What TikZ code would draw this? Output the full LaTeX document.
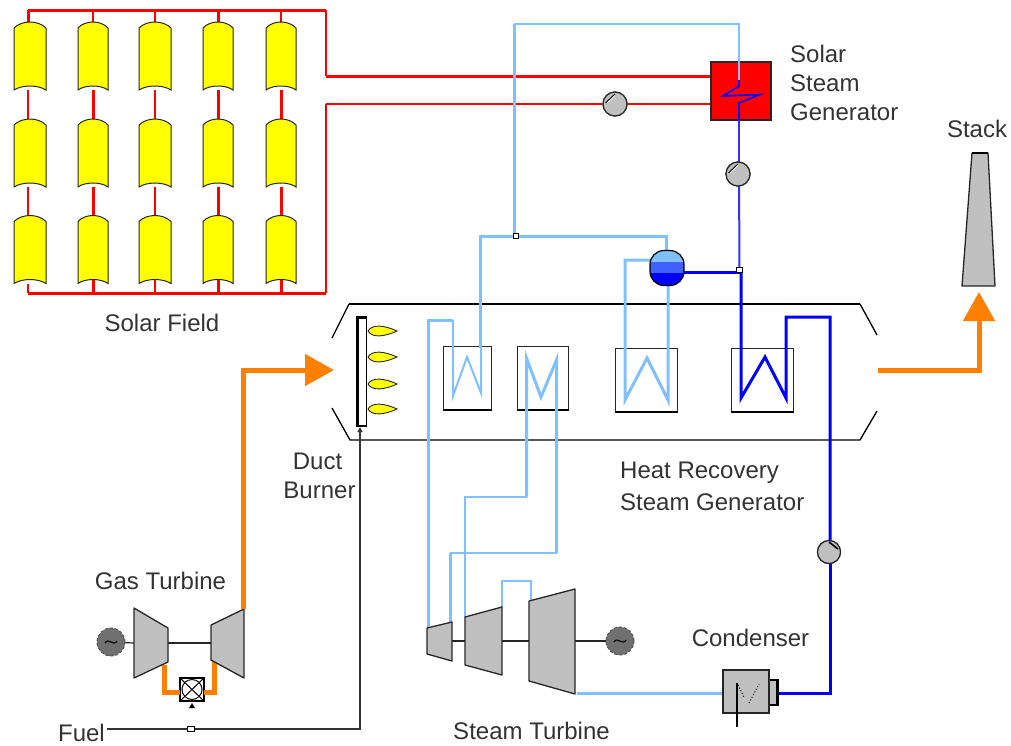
\documentclass[tikz,border=0pt]{standalone}
\usepackage{fontspec}
\setmainfont{Liberation Sans}
\usetikzlibrary{calc,arrows.meta}
\definecolor{pipeL}{HTML}{80C0FF}
\definecolor{pipeB}{HTML}{0000FF}
\definecolor{pipeM}{HTML}{4060FF}
\definecolor{hot}{HTML}{FF0000}
\definecolor{flue}{HTML}{FF8000}
\definecolor{metal}{HTML}{C0C0C0}
\definecolor{gen}{HTML}{707070}
\definecolor{lab}{HTML}{333333}
\definecolor{sun}{HTML}{FFFF00}
\tikzset{
  anch/.style={inner sep=0pt,outer sep=0pt,minimum width=#1,minimum height=68pt,rectangle},
  collshape/.style={draw=black!85,line width=1pt,fill=sun},
  hotA/.style={draw=hot,line width=1.4pt},
  hotB/.style={draw=hot,line width=3pt},
  lblue/.style={draw=pipeL,line width=3pt},
  lbluethin/.style={draw=pipeL,line width=2pt},
  dblue/.style={draw=pipeB,line width=3pt},
  dbluethin/.style={draw=pipeB!80!white,line width=2pt},
  gas/.style={draw=flue,line width=5pt},
  fuelline/.style={draw=black!80,line width=1.1pt},
  pump/.style={circle,draw=black!85,line width=1.2pt,fill=metal,minimum size=24pt,inner sep=0pt},
  jct/.style={rectangle,draw=black,fill=white,line width=.8pt,minimum size=5.5pt,inner sep=0pt},
  hxbox/.style={rectangle,draw=black!85,fill=white,line width=1pt,inner sep=0pt},
  machine/.style={draw=black!85,line width=1.3pt,fill=metal,line join=round},
  gener/.style={circle,draw=black!70,densely dashed,line width=.9pt,fill=gen,minimum size=28pt,inner sep=0pt},
  shaft/.style={draw=black!85,line width=1.2pt},
  casing/.style={draw=black,line width=1.3pt},
  casingB/.style={draw=black,line width=2.6pt},
  lbl/.style={text=lab,font=\fontsize{24}{29}\selectfont,inner sep=0pt},
  flame/.style={draw=black!85,line width=.9pt,fill=sun},
}
\newcommand{\collector}[1]{%
  \draw[collshape] ($(#1.north west)+(0,6)$) .. controls ($(#1.north)+(-8,-2)$) and ($(#1.north)+(8,-2)$) .. ($(#1.north east)+(0,6)$)
    -- (#1.south east) .. controls ($(#1.south)+(8,-5.3)$) and ($(#1.south)+(-8,-5.3)$) .. (#1.south west) -- cycle;}
\newcommand{\wave}[1]{%
  \draw[black,line width=1.1pt] ($(#1)+(-6,1)$) .. controls ($(#1)+(-2,-5)$) and ($(#1)+(2,5)$) .. ($(#1)+(6,-1)$);}
\newcommand{\pumpmark}[1]{%
  \draw[black,line width=1pt] ($(#1)+(-9.5,-1)$) -- ($(#1)+(0,-10)$);
  \draw[white,line width=.6pt] ($(#1)+(-8,-1)$) -- ($(#1)+(0,-8.5)$);}
\begin{document}
\begin{tikzpicture}[x=1pt,y=-1pt]
\useasboundingbox (0,0) rectangle (1011,745);
% ---- solar field anchors
\foreach \r/\yy in {1/56,2/153,3/249.5}{
  \node[anch=32pt] (c\r a) at (30,\yy) {};
  \node[anch=30pt] (c\r b) at (93,\yy) {};
  \node[anch=32pt] (c\r c) at (155,\yy) {};
  \node[anch=30pt] (c\r d) at (218,\yy) {};
  \node[anch=30pt] (c\r e) at (281,\yy) {};
}
\coordinate (hdrT) at (28,10);
\coordinate (hdrB) at (28,293);
\coordinate (turnT) at (326,76);
\coordinate (turnB) at (326,104);
\node[rectangle,draw=black!85,fill=hot,line width=1.2pt,minimum width=60pt,minimum height=58pt,inner sep=0pt] (ssg) at (741,91) {};
\node[pump] (p1) at (615,104) {};
\node[pump] (p2) at (738,174) {};
\node[pump,minimum size=23pt] (p3) at (829,552) {};
\node[jct] (j1) at (516,236) {};
\node[jct] (j2) at (739.5,270) {};
\node[jct,minimum width=7pt] (j3) at (190.5,729) {};
% ---- solar field pipework
\draw[hotB] (turnT -| 326,10) ++(0,-66) -- (hdrT);
\draw[hotA] (326,10) -- (turnT);
\draw[hotB] (hdrB) -- (326,293);
\draw[hotA] (326,293) -- (turnB);
\draw[hotB] (hdrT) -- (c1a.north -| hdrT);
\draw[hotA] (c1b.north) -- (c1b.north |- hdrT);
\draw[hotA] (c1c.north) -- (c1c.north |- hdrT);
\draw[hotB] (c1d.north) -- (c1d.north |- hdrT);
\draw[hotA] (c1e.north) -- (c1e.north |- hdrT);
\draw[hotA] (c1a.south -| hdrT) -- (c2a.north -| hdrT);
\draw[hotB] (c1b) -- (c2b);
\draw[hotA] (c1c) -- (c2c);
\draw[hotB] (c1d) -- (c2d);
\draw[hotB] (c1e) -- (c2e);
\draw[hotA] (c2a.south -| hdrT) -- (c3a.north -| hdrT);
\draw[hotB] (c2b) -- (c3b);
\draw[hotA] (c2c) -- (c3c);
\draw[hotB] (c2d) -- (c3d);
\draw[hotB] (c2e) -- (c3e);
\draw[hotA] (c3a.south -| hdrT) -- (hdrB);
\draw[hotB] (c3b.center) -- (c3b.center |- hdrB);
\draw[hotA] (c3c.center) -- (c3c.center |- hdrB);
\draw[hotB] (c3d.center) -- (c3d.center |- hdrB);
\draw[hotB] (c3e.center) -- (c3e.center |- hdrB);
\foreach \r in {1,2,3}{\foreach \c in {a,b,c,d,e}{\collector{c\r\c}}}
\draw[hotB] (turnT) -- (ssg.west |- turnT);
\draw[hotA] (turnB) -- (p1);
\draw[hotA] (p1) -- (ssg.west |- p1);
% ---- HRSG casing
\coordinate (ct1) at (349,304); \coordinate (ct2) at (860,304);
\coordinate (cb1) at (350,440); \coordinate (cb2) at (860,440);
\draw[casingB] (ct1) -- (ct2);
\draw[casing] (ct1) -- (332,338);
\draw[casing] (ct2) -- (877,335);
\draw[casing] (332,408) -- (cb1) -- (cb2) -- (877,411);
% ---- HX boxes
\node[hxbox,minimum width=48pt,minimum height=63pt] (hx1) at (467,377.5) {};
\node[hxbox,minimum width=51pt,minimum height=63pt] (hx2) at (542.5,377.5) {};
\node[hxbox,minimum width=62pt,minimum height=63pt] (hx3) at (646,379.5) {};
\node[hxbox,minimum width=62pt,minimum height=63pt] (hx4) at (762,379.5) {};
\foreach \h in {hx1,hx2,hx3,hx4}{
  \draw[black,line width=2pt] (\h.south west) -- (\h.south east);
}
% ---- turbine anchors
\coordinate (t1in) at (427,628);
\coordinate (t1out) at (450,622);
\coordinate (t2in) at (465,617);
\coordinate (t2out) at (502,607);
\coordinate (t3in) at (531,601);
\coordinate (t3out) at (577,693);
% ---- steam pipework
\draw[lblue] (j1) -- (514,236) -- (514,24);
\draw[lbluethin,line width=2.5pt] (514,24) -- (739,24) -- (739,80);
\draw[lblue] (480,348) -- (480,236) -- (j1);
\draw[lblue] (j1) -- (666,236) -- (666,252);
\draw[lbluethin] (481,348) -- (481,393) -- (467,357) -- (453,396) -- (453,320);
\draw[lblue] (453,320) -- (428,320) -- (428,628);
\draw[lblue] (652,260) -- (625,260) -- (625,400) -- (647,358) -- (668,400) -- (668,285);
\draw[lblue] (526.5,497) -- (526.5,358) -- (541,397) -- (556.5,360) -- (556.5,553);
\draw[lbluethin] (526.5,497) -- (465,497) -- (t2in);
\draw[lbluethin] (556.5,553) -- (450,553);
\draw[lblue] (450,553) -- (t1out);
\draw[lbluethin] (t2out) -- (502,581) -- (531,581) -- (t3in);
\draw[lblue] (t3out) -- (723,693);
% ---- water pipework
\draw[dbluethin] (739,120) -- (p2.center -| 739,0);
\draw[dbluethin] (p2.center -| 739,0) -- (j2);
\draw[dblue] (682,272) -- (740,272);
\draw[dblue,line join=miter,miter limit=8] (741,272) -- (741,398) -- (765,357) -- (786,398) -- (786,317) -- (830,317) -- (830,540);
\draw[dblue] (830,564) -- (830,693) -- (778,693);
% ---- drum
\node[rectangle,minimum width=34pt,minimum height=35pt,inner sep=0pt,rounded corners=14pt,draw=black,line width=1.2pt,
  path picture={
    \begin{scope}[sharp corners]
    \fill[pipeL] (path picture bounding box.north west) rectangle ($(path picture bounding box.east)+(0,-6)$);
    \fill[pipeM] ($(path picture bounding box.west)+(0,-6)$) rectangle ($(path picture bounding box.east)+(0,5)$);
    \fill[pipeB] ($(path picture bounding box.west)+(0,5)$) rectangle (path picture bounding box.south east);
    \end{scope}
  }] (drum) at (667,268) {};
% ---- SSG coil
\draw[pipeB,line width=1.6pt,line join=miter,miter limit=10] (739,80) -- (739,86) -- (723,96) -- (760,94.5) -- (739,103) -- (739,120);
% ---- pumps and junctions on top
\foreach \p in {p1,p2}{\node[pump] at (\p) {};\pumpmark{\p}}
\node[pump,minimum size=23pt] at (p3) {};
\draw[black,line width=1.6pt] ($(p3)+(0,-10)$) -- ($(p3)+(9,-3)$);
\node[jct] at (j1) {};
\node[jct] at (j2) {};
% ---- duct burner
\node[rectangle,draw=black,fill=white,line width=1.2pt,minimum width=8pt,minimum height=108pt,inner sep=0pt] (burner) at (362.5,372) {};
\draw[black,line width=3pt] (burner.south west) -- (burner.north west) -- (burner.north east);
\foreach \yy in {331,357,384,409}{
  \draw[flame] (368,\yy) .. controls (372,\yy-7) and (384,\yy-6) .. (397,\yy) .. controls (384,\yy+6) and (372,\yy+7) .. (368,\yy) -- cycle;
}
% ---- fuel
\coordinate (fuelS) at (107,729);
\draw[fuelline] (fuelS) -- (j3);
\draw[fuelline,-{Triangle[length=5pt,width=5pt]}] (j3) -- (360,729) -- (360,427);
\node[jct,minimum width=7pt] at (j3) {};
% ---- gas turbine
\coordinate (gc) at (111,642);
\node[gener] (gg) at (gc) {};
\wave{gc}
\coordinate (cmpL) at (134,643);
\coordinate (cmpR) at (168,643);
\coordinate (trbL) at (211,643);
\coordinate (trbTop) at (243.5,609);
\coordinate (gasEnd) at (334,370);
\node[rectangle,draw=black,fill=white,line width=1.6pt,minimum width=24pt,minimum height=23pt,inner sep=0pt] (comb) at (192,689.5) {};
\draw[gas] (164,665) -- (164,692) -- (180,692);
\draw[gas] (204,692) -- (214,692) -- (214,660);
\draw[shaft] (gg) -- (cmpL);
\draw[shaft] (cmpR) -- (trbL);
\draw[machine] (134,608) -- (168,628) -- (168,662) -- (134,678) -- cycle;
\draw[machine] (211,625) -- (244,609) -- (244,678) -- (211,660) -- cycle;
\draw[black,line width=1pt] (comb.north west) -- (comb.south east) (comb.north east) -- (comb.south west);
\draw[black,line width=1pt] (comb) circle (10);
\fill[black] (189,708) -- (195,708) -- (192,703) -- cycle;
\draw[gas,-{Triangle[length=29pt,width=31pt]}] (trbTop) -- (243.5,370) -- (gasEnd);
% ---- steam turbines
\node[gener] (gs) at (620,641) {};
\wave{gs}
\draw[shaft] (452,641) -- (465,641);
\draw[shaft] (502,641) -- (529,641);
\draw[shaft] (575,641) -- (gs);
\draw[machine] (427,628) -- (452,622) -- (452,661) -- (427,654) -- cycle;
\draw[machine] (465,617) -- (502,607) -- (502,675) -- (465,665) -- cycle;
\draw[machine] (529,601) -- (575,589) -- (575,694) -- (529,681) -- cycle;
% ---- condenser
\node[rectangle,draw=black,fill=metal,line width=2.2pt,minimum width=9pt,minimum height=25pt,inner sep=0pt] (condB) at (773,692.5) {};
\node[rectangle,draw=black!85,fill=metal,line width=1.2pt,minimum width=46pt,minimum height=43pt,inner sep=0pt] (cond) at (746,691.5) {};
\draw[black,line width=1.1pt] (737,683) -- (737,727);
\draw[black,line width=1pt,dotted] (738,685) -- (744,697);
\draw[black,line width=1pt,dotted] (749,703) -- (759,684);
% ---- stack and exhaust
\coordinate (exh) at (878,370);
\draw[gas,-{Triangle[length=29pt,width=31pt]}] (exh) -- (979,370) -- (979,292);
\draw[machine] (972,153) -- (988,153) -- (995,286) -- (962,286) -- cycle;
\draw[black,line width=2.4pt] (972,153) -- (988,153);
% ---- labels
\node[lbl,anchor=west] (t1) at (790,54) {Solar};
\node[lbl,anchor=west] (t2) at (790,83) {Steam};
\node[lbl,anchor=west] (t3) at (790,112) {Generator};
\node[lbl] (t4) at (977,129) {Stack};
\node[lbl] (t5) at (162,323) {Solar Field};
\node[lbl] (t6) at (317.5,461) {Duct};
\node[lbl] (t7) at (319.5,490) {Burner};
\node[lbl,anchor=west] (t8) at (620,473) {Heat Recovery};
\node[lbl,anchor=west] (t9) at (620,502) {Steam Generator};
\node[lbl] (t10) at (160.5,581) {Gas Turbine};
\node[lbl] (t11) at (750.5,638) {Condenser};
\node[lbl] (t12) at (531.5,731) {Steam Turbine};
\node[lbl,anchor=east] (t13) at (105,733) {Fuel};
\end{tikzpicture}
\end{document}
